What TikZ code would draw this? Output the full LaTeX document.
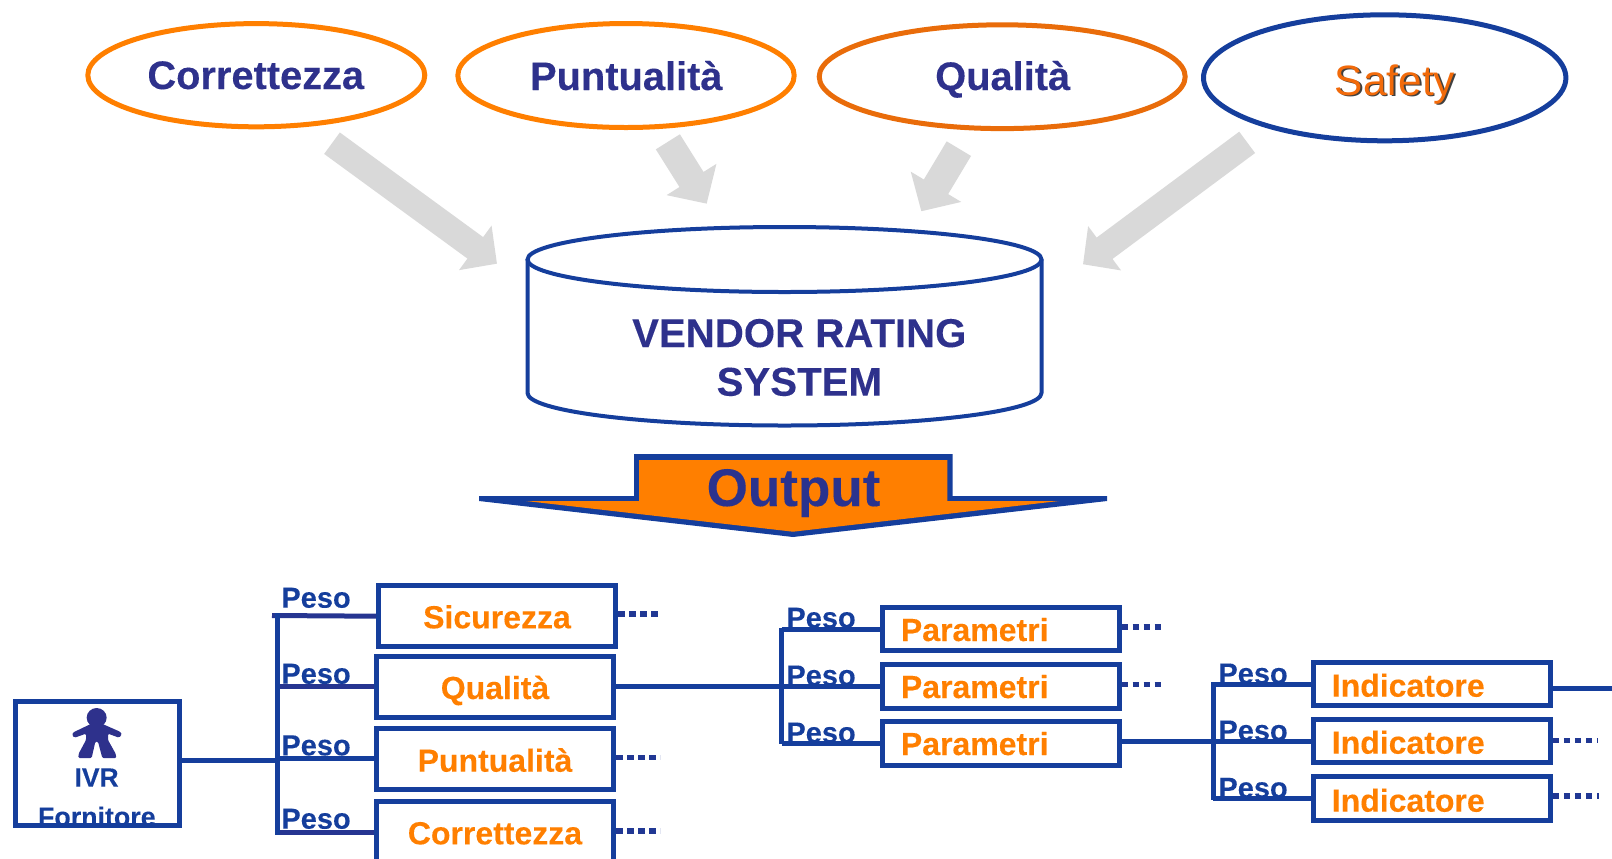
\documentclass[tikz,border=0pt]{standalone}
\usepackage{fontspec}
\setmainfont[BoldFeatures={FakeBold=0.15}]{Liberation Sans}
\usetikzlibrary{arrows.meta,shapes.geometric,calc}
\definecolor{bluline}{HTML}{153E9C}
\definecolor{navy}{HTML}{2E318C}
\definecolor{orng}{HTML}{FF7F00}
\definecolor{dorng}{HTML}{E96C0A}
\definecolor{safe}{HTML}{F26A0A}
\definecolor{grayarrow}{HTML}{D9D9D9}
\tikzset{
  oval/.style={ellipse,draw=#1,line width=2.5pt,fill=white,inner sep=0pt},
  ovaltext/.style={anchor=base,inner sep=0pt,text=navy,font=\fontsize{19.9pt}{20pt}\selectfont\bfseries},
  fatbig/.style={draw=grayarrow,line width=13.3pt,-{Triangle[length=13.45pt,width=26.8pt]}},
  fatsmall/.style={draw=grayarrow,line width=14.2pt,-{Triangle[length=14.3pt,width=28.6pt]}},
  boxa/.style={rectangle,draw=bluline,line width=2.5pt,minimum width=118.5pt,minimum height=30.35pt,inner sep=0pt},
  boxb/.style={rectangle,draw=bluline,line width=2.5pt,minimum width=118.45pt,minimum height=21.8pt,inner sep=0pt},
  boxtext/.style={inner sep=0pt,text=orng,font=\fontsize{16pt}{17pt}\selectfont\bfseries},
  pesotext/.style={anchor=base west,inner sep=0pt,text=bluline,font=\fontsize{14.5pt}{15pt}\selectfont\bfseries},
  wire/.style={draw=bluline,line width=2.5pt},
  wirep/.style={draw=navy!70!bluline,line width=2.5pt},
  dotted line/.style={draw=navy!50!bluline,line width=2.75pt,dash pattern=on 3.25pt off 2.25pt},
}
\begin{document}
\begin{tikzpicture}[x=0.5pt,y=-0.5pt]
\useasboundingbox (0,0) rectangle (1612,858);
\clip (0,0) rectangle (1612,858);
% gray block arrows
\coordinate (a1s) at (332,143.2);   \coordinate (a1e) at (497,263.7);
\coordinate (a2s) at (667.85,141.8);\coordinate (a2e) at (706.7,203.7);
\coordinate (a3s) at (958.85,148.65);\coordinate (a3e) at (921.3,211.3);
\coordinate (a4s) at (1247.15,142.35);\coordinate (a4e) at (1083,264.3);
\draw[fatbig] (a1s) -- (a1e);
\draw[fatsmall] (a2s) -- (a2e);
\draw[fatsmall] (a3s) -- (a3e);
\draw[fatbig] (a4s) -- (a4e);
% ovals
\node[oval=orng,minimum width=168.5pt,minimum height=51.6pt] (ocorr) at (256.3,75.2) {};
\node[oval=orng,minimum width=168.2pt,minimum height=52pt] (opunt) at (626,75.5) {};
\node[oval=dorng,minimum width=183pt,minimum height=51.9pt] (oqual) at (1002.2,76.7) {};
\node[oval=bluline,minimum width=181.2pt,minimum height=63pt] (osafe) at (1384.7,77.8) {};
\node[ovaltext] (tcorr) at (255.8,89) {Correttezza};
\node[ovaltext] (tpunt) at (626.3,90) {Puntualità};
\node[ovaltext] (tqual) at (1002.7,90) {Qualità};
\node[anchor=base,inner sep=0pt,text=black!75,font=\fontsize{21.2pt}{22pt}\selectfont] (tsafes) at (1396.6,96.6) {Safety};
\node[anchor=base,inner sep=0pt,text=safe,font=\fontsize{21.2pt}{22pt}\selectfont] (tsafe) at (1395,95) {Safety};
% cylinder
\draw[bluline,line width=2pt,fill=white,line join=round]
  (527.5,259.5) -- (527.5,393)
  .. controls (527.5,411) and (642.6,425.5) .. (784.5,425.5)
  .. controls (926.4,425.5) and (1041.5,411) .. (1041.5,393) -- (1041.5,259.5);
\node[ellipse,draw=bluline,line width=2pt,fill=white,inner sep=0pt,minimum width=257pt,minimum height=32.5pt] (cyl) at (784.5,259.5) {};
\node[anchor=base,inner sep=0pt,text=navy,font=\fontsize{20.1pt}{21pt}\selectfont\bfseries] (vr1) at (799.3,347) {VENDOR RATING};
\node[anchor=base,inner sep=0pt,text=navy,font=\fontsize{20.1pt}{21pt}\selectfont\bfseries] (vr2) at (799.3,395.7) {SYSTEM};
% output arrow
\fill[bluline] (479,496) -- (634,496) -- (634,454) -- (952.7,454) -- (952.7,496) -- (1107,496) -- (1107,501) -- (793,537) -- (479,501) -- cycle;
\fill[orng] (639,460) -- (947.3,460) -- (947.3,501) -- (1059,501) -- (793,531.7) -- (526,501) -- (639,501) -- cycle;
\node[anchor=base,inner sep=0pt,text=navy!85!bluline,font=\fontsize{26.5pt}{27pt}\selectfont\bfseries] (out) at (793.5,506) {Output};
% IVR box
\node[anchor=base,inner sep=0pt,text=bluline,font=\fontsize{13.25pt}{14pt}\selectfont\bfseries] (ivrt) at (96.6,786.7) {IVR};
\node[anchor=base,inner sep=0pt,text=bluline,font=\fontsize{13.4pt}{14pt}\selectfont\bfseries] (fort) at (96.8,826) {Fornitore};
\node[rectangle,draw=bluline,line width=2.5pt,minimum width=81.9pt,minimum height=61.7pt,inner sep=0pt] (ivr) at (97.2,763.5) {};
\begin{scope}[shift={(10,695)},x=0.16667pt,y=-0.16667pt]
  \fill[navy] (260,68) ellipse [x radius=30,y radius=29];
  \fill[navy,rounded corners=0.6pt] (240,88) -- (190,112) -- (186,120) -- (194,128) -- (228,116) -- (228,135) -- (206,176) -- (205,189) -- (245,189) -- (256,140) -- (264,140) -- (277,189) -- (319,189) -- (317,176) -- (294,135) -- (294,116) -- (327,128) -- (336,118) -- (330,110) -- (280,88) -- cycle;
\end{scope}
% level 1 boxes
\node[boxa] (sic) at (497,616.2) {};
\node[boxa] (qua) at (495,686.7) {};
\node[boxa] (pun) at (495,758.8) {};
\node[boxa] (cor) at (495,831.5) {};
\node[boxtext,anchor=base] (tsic) at (497,628.3) {Sicurezza};
\node[boxtext,anchor=base] (tqua) at (495,699) {Qualità};
\node[boxtext,anchor=base] (tpun) at (495,771.7) {Puntualità};
\node[boxtext,anchor=base] (tcor) at (495,844.3) {Correttezza};
\coordinate (tr1) at (277,723);
\coordinate (tr1top) at (277,613);
\coordinate (tr1bot) at (277,835);
\coordinate (br1s) at (272,615.5);
\draw[wirep] (br1s) -- (sic.west);
\draw[wirep] (qua.west -| tr1) -- (qua.west);
\draw[wire] (pun.west -| tr1) -- (pun.west);
\draw[wirep] ([yshift=-0.7pt]cor.west -| tr1) -- ([yshift=-0.7pt]cor.west);
\draw[wire] (tr1top) -- (tr1bot);
\draw[wire] ([yshift=1.7pt]ivr.east) -- ([yshift=1.7pt]ivr.east -| tr1);
\node[pesotext] (p1) at (281,607.7) {Peso};
\node[pesotext] (p2) at (281,683.7) {Peso};
\node[pesotext] (p3) at (281,755.3) {Peso};
\node[pesotext] (p4) at (281,828.7) {Peso};
% level 1 dots
\coordinate (d1) at (660,614);
\coordinate (d2) at (660,757.3);
\coordinate (d3) at (660,831);
\draw[dotted line] (sic.east |- d1) -- (d1);
\draw[dotted line] (pun.east |- d2) -- (d2);
\draw[dotted line] (cor.east |- d3) -- (d3);
% level 2 boxes
\node[boxb] (par1) at (1000.65,629) {};
\node[boxb] (par2) at (1000.65,686.35) {};
\node[boxb] (par3) at (1000.65,743.35) {};
\node[boxtext,anchor=base west] (tp1) at (900.5,641) {Parametri};
\node[boxtext,anchor=base west] (tp2) at (900.5,698) {Parametri};
\node[boxtext,anchor=base west] (tp3) at (900.5,755) {Parametri};
\coordinate (tr2) at (781.5,686);
\coordinate (tr2top) at (781.5,627.5);
\coordinate (tr2bot) at (781.5,744);
\draw[wire] (qua.east) -- (qua.east -| tr2);
\draw[wire] (par1.west -| tr2) -- (par1.west);
\draw[wire] (par2.west -| tr2) -- (par2.west);
\draw[wire] (par3.west -| tr2) -- (par3.west);
\draw[wire] (tr2top) -- (tr2bot);
\node[pesotext] (p5) at (786,627.7) {Peso};
\node[pesotext] (p6) at (786,685.5) {Peso};
\node[pesotext] (p7) at (786,742.6) {Peso};
\coordinate (d4) at (1163.5,627);
\coordinate (d5) at (1163.5,684.7);
\draw[dotted line] (par1.east |- d4) -- (d4);
\draw[dotted line] (par2.east |- d5) -- (d5);
% level 3 boxes
\node[boxb] (ind1) at (1432,684.15) {};
\node[boxb] (ind2) at (1432,741.15) {};
\node[boxb] (ind3) at (1432,798.5) {};
\node[boxtext,anchor=base west] (ti1) at (1331.4,696.7) {Indicatore};
\node[boxtext,anchor=base west] (ti2) at (1331.4,753.7) {Indicatore};
\node[boxtext,anchor=base west] (ti3) at (1331.4,811.7) {Indicatore};
\coordinate (tr3) at (1213,741);
\coordinate (tr3top) at (1213,682);
\coordinate (tr3bot) at (1213,800);
\draw[wire] ([yshift=1pt]par3.east) -- ([yshift=1pt]par3.east -| tr3);
\draw[wire] (ind1.west -| tr3) -- (ind1.west);
\draw[wire] (ind2.west -| tr3) -- (ind2.west);
\draw[wire] (ind3.west -| tr3) -- (ind3.west);
\draw[wire] (tr3top) -- (tr3bot);
\node[pesotext] (p8) at (1218,683.5) {Peso};
\node[pesotext] (p9) at (1218,740.5) {Peso};
\node[pesotext] (p10) at (1218,797.8) {Peso};
\coordinate (rend) at (1612,688.3);
\draw[wire] (ind1.east |- rend) -- (rend);
\coordinate (d6) at (1597,740.7);
\coordinate (d7) at (1599,796);
\draw[dotted line] (ind2.east |- d6) -- (d6);
\draw[dotted line] (ind3.east |- d7) -- (d7);
\end{tikzpicture}
\end{document}
